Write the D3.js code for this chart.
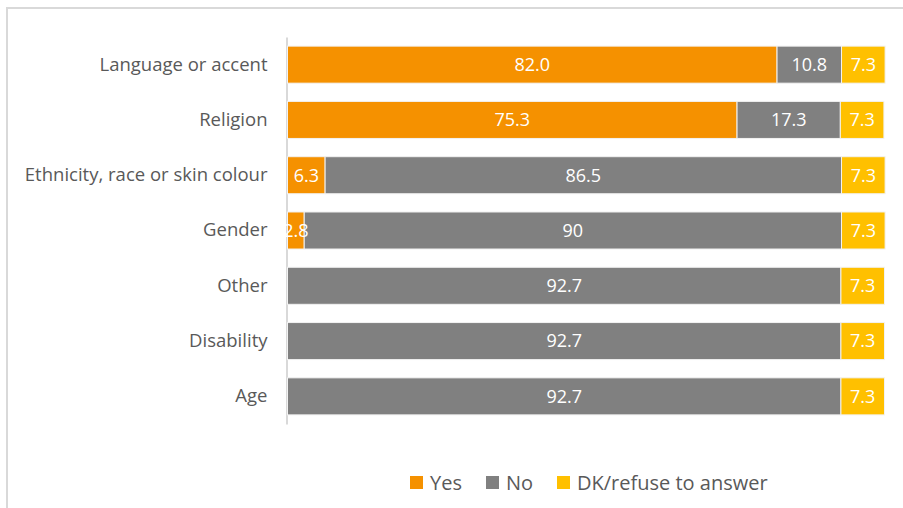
<!DOCTYPE html>
<html>
<head>
<meta charset="utf-8">
<script src="https://cdn.jsdelivr.net/npm/d3@7"></script>
<style>
  html, body { margin: 0; padding: 0; background: #fff; }
  svg { display: block; }
</style>
</head>
<body>
<svg id="chart" width="903" height="508"></svg>
<script>
// Reasons for discrimination, share of respondents (%)
const categories = ["Language or accent", "Religion", "Ethnicity, race or skin colour", "Gender", "Other", "Disability", "Age"];
const seriesNames = ["Yes", "No", "DK/refuse to answer"];
const yesValues = [82.0, 75.3, 6.3, 2.8, 0, 0, 0];
const noValues = [10.8, 17.3, 86.5, 90, 92.7, 92.7, 92.7];
const dkValues = [7.3, 7.3, 7.3, 7.3, 7.3, 7.3, 7.3];
const labelsYes = ["82.0", "75.3", "6.3", "2.8", "", "", ""];
const labelsNo = ["10.8", "17.3", "86.5", "90", "92.7", "92.7", "92.7"];
const labelsDk = ["7.3", "7.3", "7.3", "7.3", "7.3", "7.3", "7.3"];
const colors = ["#F59100", "#808080", "#FFC000"];

const font = "'Open Sans', sans-serif";
const svg = d3.select("#chart");

// chart frame
svg.append("rect")
  .attr("x", 7).attr("y", 8).attr("width", 920).attr("height", 520)
  .attr("fill", "none").attr("stroke", "#d9d9d9").attr("stroke-width", 2);

const rows = categories.map((c, i) => ({
  cat: c,
  vals: [yesValues[i], noValues[i], dkValues[i]],
  labels: [labelsYes[i], labelsNo[i], labelsDk[i]]
}));

const x = d3.scaleLinear().domain([0, 100]).range([287.5, 884.5]);
const y = d3.scaleBand().domain(categories).range([37, 424]).paddingInner(0.33).paddingOuter(0.165);

// category axis
const yAxis = svg.append("g")
  .attr("transform", `translate(${x(0) - 1},0)`)
  .call(d3.axisLeft(y).tickSize(0).tickPadding(19));
yAxis.select(".domain").attr("stroke", "#d9d9d9").attr("stroke-width", 2);
yAxis.selectAll("text")
  .attr("font-family", font).attr("font-size", 18.5).attr("fill", "#595959");

// stacked segments
const segs = [];
rows.forEach(r => {
  let acc = 0;
  r.vals.forEach((v, k) => {
    segs.push({ cat: r.cat, k, x0: acc, x1: acc + v, label: r.labels[k] });
    acc += v;
  });
});

const g = svg.append("g");
g.selectAll("rect.seg")
  .data(segs.filter(s => s.x1 > s.x0))
  .join("rect")
  .attr("class", "seg")
  .attr("x", d => x(d.x0))
  .attr("y", d => y(d.cat))
  .attr("width", d => x(d.x1) - x(d.x0))
  .attr("height", y.bandwidth())
  .attr("fill", d => colors[d.k])
  .attr("stroke", "#f2f2f2").attr("stroke-width", 1);

g.selectAll("text.lbl")
  .data(segs.filter(s => s.label !== ""))
  .join("text")
  .attr("class", "lbl")
  .attr("x", d => (x(d.x0) + x(d.x1)) / 2)
  .attr("y", d => y(d.cat) + y.bandwidth() / 2)
  .attr("dy", "0.35em")
  .attr("text-anchor", "middle")
  .attr("font-family", font).attr("font-size", 18).attr("fill", "#fff")
  .text(d => d.label);

// legend
const legendX = [410, 486, 557];
const lg = svg.append("g");
seriesNames.forEach((n, i) => {
  lg.append("rect").attr("x", legendX[i]).attr("y", 476)
    .attr("width", 13).attr("height", 13).attr("fill", colors[i]);
  lg.append("text").attr("x", legendX[i] + 20).attr("y", 482.5).attr("dy", "0.35em")
    .attr("font-family", font).attr("font-size", 20).attr("fill", "#595959")
    .text(n);
});
</script>
</body>
</html>
